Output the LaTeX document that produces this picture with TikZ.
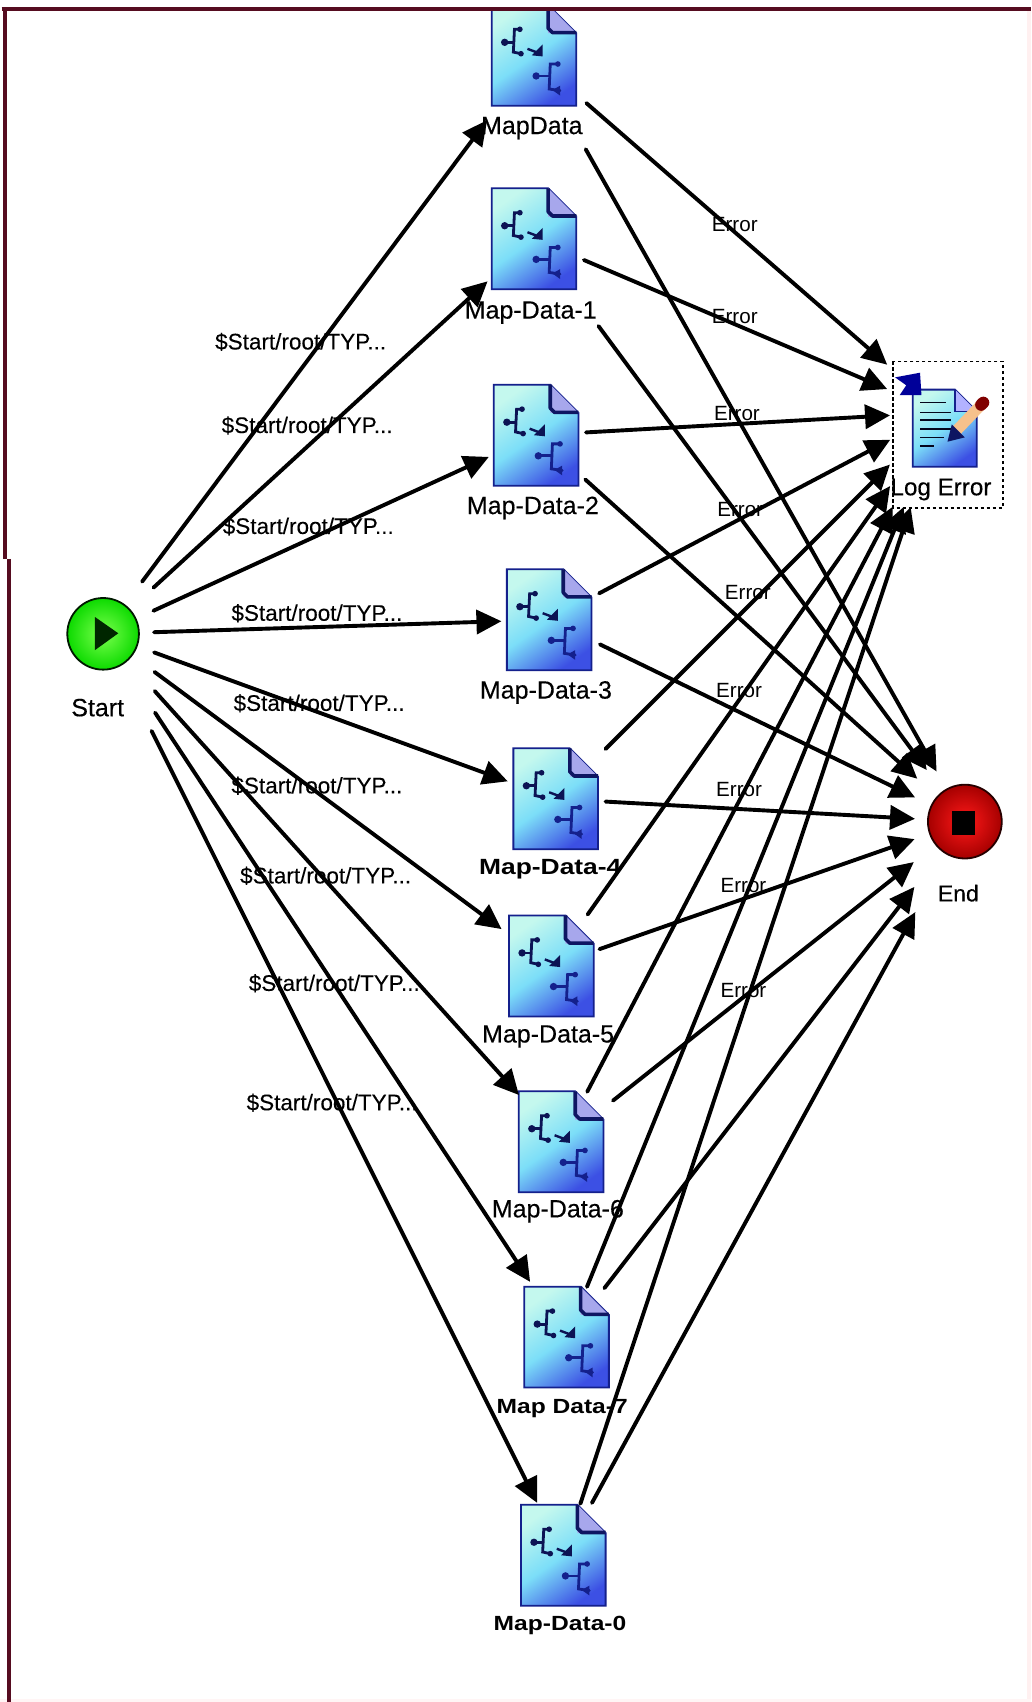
\documentclass[tikz,border=0pt]{standalone}
\usepackage{fontspec}
\setmainfont{Liberation Sans}
\newfontfamily\lblfont[FakeBold=0.3]{Liberation Sans}
\newfontfamily\thinfont[FakeBold=0.12]{Liberation Sans}
\usetikzlibrary{arrows.meta,shadings}
\definecolor{navy}{HTML}{14208C}
\definecolor{maroon}{HTML}{560C20}
\definecolor{docA}{HTML}{C4F8EE}
\definecolor{docB}{HTML}{7CDEF8}
\definecolor{docC}{HTML}{3C50E4}
\tikzset{
  x=1.0853pt,y=-1.0853pt,
  flow/.style 2 args={line width=3.9pt,draw=black,line cap=round,
     shorten <=#1*1.0853pt,shorten >=#2*1.0853pt,
     -{Triangle[length=25pt,width=24pt]}},
  edgelabel/.style={font=\thinfont\fontsize{22.5}{24}\selectfont,text=black,inner sep=0pt},
  errlabel/.style={font=\fontsize{20.6}{22}\selectfont,text=black,inner sep=0pt},
  maplabel/.style={font=\lblfont\fontsize{25}{27}\selectfont,text=black,inner sep=0pt},
  smallbold/.style={font=\fontsize{20.5}{22}\bfseries\selectfont,text=black,inner sep=0pt,xscale=1.2,transform shape},
  forkline/.style={line width=2.8pt,line cap=round},
  docbody/.style={draw=navy,line width=1.8pt,top color=docA,bottom color=docC,middle color=docB,shading angle=35},
}
\newcommand{\docicon}[3]{%
  \begin{scope}[shift={(#2,#3)}]
    \path[docbody] (-39,-46.5) -- (13,-46.5) -- (39,-20.5) -- (39,46.5) -- (-39,46.5) -- cycle;
    \fill[blue!32!white!85!gray] (13,-46.5) -- (39,-20.5) -- (13,-20.5) -- cycle;
    \draw[navy!70!black,line width=3.6pt,line join=round] (13,-46.5) -- (13,-25) -- (17,-21) -- (39,-21);
    \draw[navy!60!black,forkline] (-13,-24) -- (-18,-24) -- (-19,-3) -- (-12,-1.5);
    \draw[navy!60!black,forkline] (-27,-12) -- (-19,-12);
    \fill[navy!60!black] (-27,-12) circle (3.4);
    \fill[navy!60!black] (-13,-24) circle (2.6) (-12,-1.5) circle (2.6);
    \draw[navy!60!black,line width=2.4pt] (-6,-6) -- (2,-3);
    \fill[navy!60!black] (8,-10) -- (8,1) -- (-2,0) -- cycle;
    \draw[navy,forkline] (22,8) -- (15,8) -- (14,31) -- (24,32.5);
    \draw[navy,forkline] (2,19) -- (14,19);
    \fill[navy] (2,19) circle (3.4);
    \fill[navy] (22,8) circle (2.6);
    \fill[navy] (24,28) -- (24,37) -- (17,32) -- cycle;
  \end{scope}}
\begin{document}
\begin{tikzpicture}
\useasboundingbox (0,0) rectangle (950,1568.2);
\fill[white] (0,0) rectangle (950,1568.2);
\fill[red!6!white] (946,0) rectangle (950,1568.2);
\fill[red!4!white] (0,1565) rectangle (950,1568.2);

% anchor points (icon centres)
\coordinate (start) at (95,584);
\coordinate (end) at (889,757);
\coordinate (log) at (868,380);
\coordinate (m) at (492,53);
\coordinate (m1) at (492,220);
\coordinate (m2) at (494,401);
\coordinate (m3) at (506,571);
\coordinate (m4) at (512,736);
\coordinate (m5) at (508,890);
\coordinate (m6) at (517,1052);
\coordinate (m7) at (522,1232);
\coordinate (m0) at (519,1433);

% icons
\begin{scope}
\clip (0,8) rectangle (950,1568);
\docicon{m}{492}{51}
\end{scope}
\docicon{m1}{492}{220}
\docicon{m2}{494}{401}
\docicon{m3}{506}{571}
\docicon{m4}{512}{736}
\docicon{m5}{508}{890}
\docicon{m6}{517}{1052}
\docicon{m7}{522}{1232}
\docicon{m0}{519}{1433}

% Start to maps
\draw[flow={60}{72}] (start) -- (m);
\draw[flow={63}{58}] (start) -- (m1);
\draw[flow={51}{48}] (start) -- (m2);
\draw[flow={47}{44}] (start) -- (m3);
\draw[flow={50}{47}] (start) -- (m4);
\draw[flow={59}{57}] (start) -- (m5);
\draw[flow={71}{58}] (start) -- (m6);
\draw[flow={87}{61}] (start) -- (m7);
\draw[flow={100}{54}] (start) -- (m0);
% maps to Log Error
\draw[flow={64}{67}] (m) -- (log);
\draw[flow={50}{55}] (m1) -- (log);
\draw[flow={46}{48}] (m2) -- (log);
\draw[flow={52}{54}] (m3) -- (log);
\draw[flow={65}{68}] (m4) -- (log);
\draw[flow={58}{83}] (m5) -- (log);
\draw[flow={52}{98}] (m6) -- (log);
\draw[flow={50}{94}] (m7) -- (log);
\draw[flow={50}{92}] (m0) -- (log);
% maps to End
\draw[flow={97}{53}] (m) -- (end);
\draw[flow={100}{59}] (m1) -- (end);
\draw[flow={61}{59}] (m2) -- (end);
\draw[flow={52}{51}] (m3) -- (end);
\draw[flow={46}{46}] (m4) -- (end);
\draw[flow={47}{49}] (m5) -- (end);
\draw[flow={61}{60}] (m6) -- (end);
\draw[flow={57}{76}] (m7) -- (end);
\draw[flow={55}{95}] (m0) -- (end);

% Start icon
\shade[inner color=green!75!yellow!70!white,outer color=green!85!black!95!yellow,draw=black!90!green,line width=1.8pt] (start) circle (33);
\fill[black!85!green] (87.5,568.5) -- (109,583.5) -- (87.5,599) -- cycle;
\node[maplabel] (startlabel) at (90,652) {Start};

% End icon
\shade[inner color=red!90!white,outer color=red!65!black,draw=black!85!red,line width=1.8pt] (end) circle (34);
\fill[black] (877,747) rectangle (898,769);
\node[maplabel,font=\lblfont\fontsize{23}{25}\selectfont] (endlabel) at (883,823) {End};

% Log Error icon
\draw[black,line width=1.5pt,dash pattern=on 3.5pt off 2.5pt] (823,333) rectangle (924,468);
\path[docbody] (841,359) -- (880,359) -- (900,379) -- (900,430) -- (841,430) -- cycle;
\fill[blue!30!white] (880,359) -- (900,379) -- (880,379) -- cycle;
\draw[navy,line width=1.5pt] (880,359) -- (880,379) -- (900,379);
\foreach \yy/\xe in {371/872,380/876,387/876,395/876,403/870,411/861}
  \draw[black!80!navy,line width=1.6pt] (848,\yy) -- (\xe,\yy);
\draw[orange!40!white!85!brown,line width=11pt] (881,397) -- (903,374);
\fill[navy!70!black] (873,407) -- (877,391) -- (889,403) -- cycle;
\draw[red!50!black,line width=12pt,line cap=round] (904,373) -- (906,371);
\fill[blue!60!black] (824.7,347.7) -- (847.7,343.4) -- (849,364) -- (829,364) -- (835,355) -- cycle;
\node[maplabel,font=\lblfont\fontsize{24.2}{26}\selectfont] (loglabel) at (867,451) {Log Error};

% map labels
\node[maplabel] (lm) at (490,118) {MapData};
\node[maplabel] (lm1) at (489,288) {Map-Data-1};
\node[maplabel] (lm2) at (491,468) {Map-Data-2};
\node[maplabel] (lm3) at (503,638) {Map-Data-3};
\node[smallbold,xscale=1.0,font=\fontsize{22}{24}\bfseries\selectfont] (lm4) at (507,801) {Map-Data-4};
\node[maplabel] (lm5) at (505,955) {Map-Data-5};
\node[maplabel] (lm6) at (514,1116) {Map-Data-6};
\node[smallbold] (lm7) at (518,1298) {Map Data-7};
\node[smallbold] (lm0) at (516,1498) {Map-Data-0};

% edge labels
\foreach \nm/\xx/\yy in {a/277/315,b/283/392,c/284/485,d/292/565,e/294/648,f/292/724,g/300/807,h/308/906,i/306/1016}
  \node[edgelabel] (s\nm) at (\xx,\yy) {\$Start/root/TYP...};
\foreach \nm/\xx/\yy in {a/677/207,b/677/292,c/679/381,d/682/469,e/689/546,f/681/636,g/681/727,h/685/816,i/685/913}
  \node[errlabel] (e\nm) at (\xx,\yy) {Error};

% frame
\fill[white] (0,0) rectangle (950,6);
\draw[maroon,line width=4.2pt] (1.5,8) -- (950,8);
\draw[maroon,line width=4.2pt] (4.5,6.5) -- (4.5,515);
\draw[maroon,line width=4.2pt] (8.3,515) -- (8.3,1568.2);
\end{tikzpicture}
\end{document}
